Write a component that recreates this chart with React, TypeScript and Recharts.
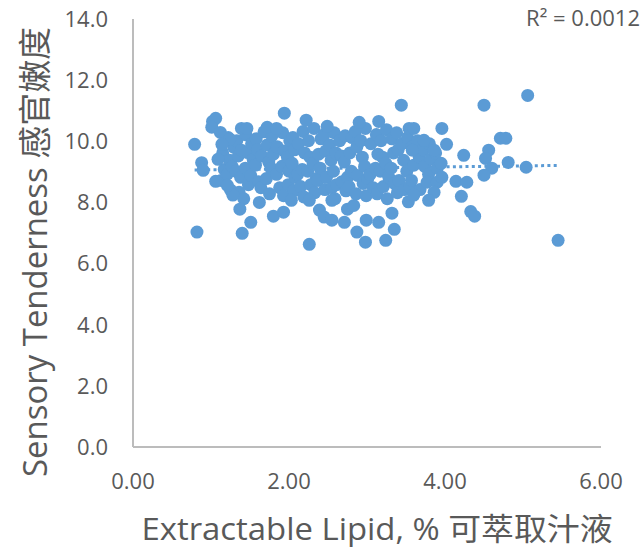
import { Scatter, ScatterChart, XAxis, YAxis } from 'recharts';

// Values: [extractable lipid %, sensory tenderness]
const leftCloud: [number, number][] = [
  [1.15, 9.62], [1.17, 9.08], [1.13, 8.72],
  [1.22, 10.12], [1.24, 9.38], [1.21, 8.93], [1.25, 8.41],
  [1.29, 9.81], [1.27, 9.18],
  [1.33, 10.02], [1.35, 9.52], [1.32, 9.02], [1.36, 8.33],
  [1.39, 9.71], [1.38, 8.82], [1.42, 8.12],
  [1.45, 10.21], [1.47, 9.63], [1.44, 9.12], [1.48, 8.58],
  [1.52, 9.92], [1.54, 9.41], [1.51, 8.88],
  [1.58, 10.08], [1.6, 9.72], [1.57, 9.22], [1.61, 8.68],
  [1.65, 9.52], [1.64, 8.48], [1.68, 10.31],
  [1.72, 9.88], [1.74, 9.32], [1.71, 8.78], [1.75, 8.28],
  [1.78, 10.18], [1.8, 9.58], [1.77, 9.12],
  [1.85, 9.82], [1.84, 8.92], [1.88, 8.48],
  [1.92, 10.28], [1.94, 9.68], [1.91, 9.18], [1.93, 8.22],
  [1.98, 9.48], [2.0, 9.02], [1.99, 8.58], [2.01, 10.02],
];

const midCloud: [number, number][] = [
  [2.05, 10.12], [2.07, 9.72], [2.04, 9.28], [2.08, 8.82], [2.06, 8.38],
  [2.12, 9.92], [2.11, 8.92], [2.15, 8.52],
  [2.18, 10.32], [2.2, 9.62], [2.17, 9.08], [2.19, 8.18],
  [2.25, 10.02], [2.27, 9.48], [2.24, 9.02], [2.28, 8.58],
  [2.32, 10.42], [2.31, 9.28], [2.35, 8.78], [2.33, 8.32],
  [2.38, 9.58], [2.4, 9.12], [2.37, 8.72], [2.41, 10.08],
  [2.45, 10.22], [2.47, 9.68], [2.48, 8.82], [2.46, 8.42],
  [2.52, 9.88], [2.54, 9.38], [2.55, 8.48],
  [2.58, 10.28], [2.6, 9.62], [2.57, 9.02], [2.61, 8.58], [2.59, 8.12],
  [2.65, 10.02], [2.67, 9.52], [2.68, 8.68],
  [2.72, 10.18], [2.71, 9.32], [2.75, 8.82], [2.73, 8.38],
  [2.78, 9.62], [2.8, 9.02], [2.77, 8.52], [2.81, 10.12],
  [2.85, 10.32], [2.87, 9.82], [2.88, 8.88], [2.86, 8.28],
  [2.92, 10.02], [2.94, 9.48], [2.95, 8.62],
  [2.98, 10.42], [2.97, 9.18], [3.01, 8.78], [2.99, 8.22],
];

const rightCloud: [number, number][] = [
  [3.05, 9.92], [3.04, 8.92], [3.08, 8.48],
  [3.12, 10.22], [3.14, 9.58], [3.11, 9.12], [3.13, 8.28],
  [3.18, 10.02], [3.2, 9.48], [3.17, 9.02], [3.21, 8.52],
  [3.25, 10.38], [3.24, 9.28], [3.28, 8.82], [3.26, 8.12],
  [3.32, 10.08], [3.34, 9.62], [3.31, 9.12], [3.35, 8.62],
  [3.38, 10.28], [3.4, 9.72], [3.41, 8.72], [3.39, 8.32],
  [3.45, 9.92], [3.47, 9.38], [3.48, 8.42],
  [3.52, 10.12], [3.51, 9.02], [3.55, 8.52], [3.53, 8.02],
  [3.58, 9.82], [3.6, 9.22], [3.57, 8.72],
  [3.65, 10.02], [3.67, 9.48], [3.68, 8.42],
  [3.72, 9.72], [3.74, 9.18],
  [3.8, 9.92], [3.82, 9.42], [3.79, 8.92],
  [3.88, 9.62], [3.9, 9.12],
];

const outliers: [number, number][] = [
  [0.79, 9.9], [0.82, 7.03], [0.88, 9.3], [0.9, 9.05], [1.02, 10.65], [1.06, 10.75],
  [1.01, 10.46], [1.12, 10.29], [1.24, 10.07], [1.14, 9.9], [1.09, 9.41], [1.06, 8.69],
  [1.39, 10.42], [1.46, 10.42], [1.72, 10.46], [1.84, 10.42], [1.94, 10.92],
  [1.51, 7.35], [1.37, 7.78], [1.62, 8.0], [1.8, 7.55], [1.93, 7.68], [1.28, 8.24],
  [1.21, 8.56], [1.4, 6.99],
  [2.22, 10.69], [2.49, 10.49], [2.9, 10.62], [3.15, 10.65], [2.03, 8.07], [2.26, 8.07],
  [2.55, 8.07], [2.39, 7.75], [2.45, 7.52], [2.55, 7.42], [2.71, 7.35], [2.75, 7.78],
  [2.99, 7.42], [2.87, 7.03], [2.98, 6.7], [3.24, 6.76], [2.26, 6.63], [3.15, 7.35],
  [2.83, 7.9],
  [3.44, 11.18], [3.54, 10.42], [3.6, 10.42], [3.96, 10.42], [4.02, 9.9], [3.73, 10.03],
  [3.86, 9.71], [4.24, 9.54], [3.58, 9.71], [3.95, 9.28], [3.77, 8.66], [3.9, 8.66],
  [3.96, 8.82], [4.14, 8.69], [4.28, 8.66], [4.21, 8.2], [3.86, 8.33], [3.79, 8.07],
  [3.6, 8.24], [4.33, 7.7], [4.38, 7.55], [3.32, 7.65], [3.35, 7.12],
  [5.06, 11.5], [4.5, 11.18], [4.71, 10.1], [4.78, 10.1], [4.56, 9.71], [4.52, 9.44],
  [4.81, 9.31], [4.6, 9.12], [5.04, 9.15], [4.5, 8.89], [5.45, 6.76],
];

// Linear trendline end points (R² = 0.0012)
const trendLipid = [0.79, 5.45];
const trendTenderness = [9.06, 9.21];

const xTicks = [0, 2, 4, 6];
const yTicks = [0, 2, 4, 6, 8, 10, 12, 14];

const BLUE = '#5b9bd5';
const GREY = '#595959';
const FONT = "'Open Sans', 'Noto Sans CJK SC', sans-serif";

const points = [...leftCloud, ...midCloud, ...rightCloud, ...outliers].map(([lipid, tenderness]) => ({ lipid, tenderness }));
const trend = trendLipid.map((lipid, i) => ({ lipid, tenderness: trendTenderness[i] }));

export default function App() {
  return (
    <div style={{ position: 'absolute', left: 0, top: 0, width: 642, height: 550, background: '#fff' }}>
      <ScatterChart width={642} height={550} margin={{ top: 19, right: 41, bottom: 43, left: 53 }}>
        <XAxis
          type="number"
          dataKey="lipid"
          domain={[0, 6]}
          ticks={xTicks}
          tickFormatter={(v) => Number(v).toFixed(2)}
          height={60}
          tickSize={0}
          tickMargin={26}
          axisLine={{ stroke: '#bcbcbc', strokeWidth: 2 }}
          tick={{ fill: GREY, fontSize: 22, fontFamily: FONT }}
        />
        <YAxis
          type="number"
          dataKey="tenderness"
          domain={[0, 14]}
          ticks={yTicks}
          tickFormatter={(v) => Number(v).toFixed(1)}
          width={80}
          tickSize={0}
          tickMargin={25}
          axisLine={{ stroke: '#bcbcbc', strokeWidth: 2 }}
          tick={{ fill: GREY, fontSize: 22, fontFamily: FONT }}
        />
        <Scatter
          data={trend}
          shape={() => <g />}
          line={{ stroke: BLUE, strokeWidth: 3, strokeDasharray: '3 3.3' }}
          isAnimationActive={false}
        />
        <Scatter
          data={points}
          shape={(p: any) => <circle cx={p.cx} cy={p.cy} r={6.5} fill={BLUE} />}
          isAnimationActive={false}
        />
      </ScatterChart>
      <svg width={642} height={550} style={{ position: 'absolute', left: 0, top: 0, pointerEvents: 'none' }}>
        <text x={640} y={26} textAnchor="end" fill={GREY} fontSize={22} fontFamily={FONT}>
          R² = 0.0012
        </text>
        <text x={377} y={540} textAnchor="middle" fill={GREY} fontSize={31} fontFamily={FONT} textLength={471} lengthAdjust="spacingAndGlyphs">
          Extractable Lipid, % 可萃取汁液
        </text>
        <text transform="translate(47,252) rotate(-90)" textAnchor="middle" fill={GREY} fontSize={33} fontFamily={FONT} textLength={450} lengthAdjust="spacingAndGlyphs">
          Sensory Tenderness 感官嫩度
        </text>
      </svg>
    </div>
  );
}
